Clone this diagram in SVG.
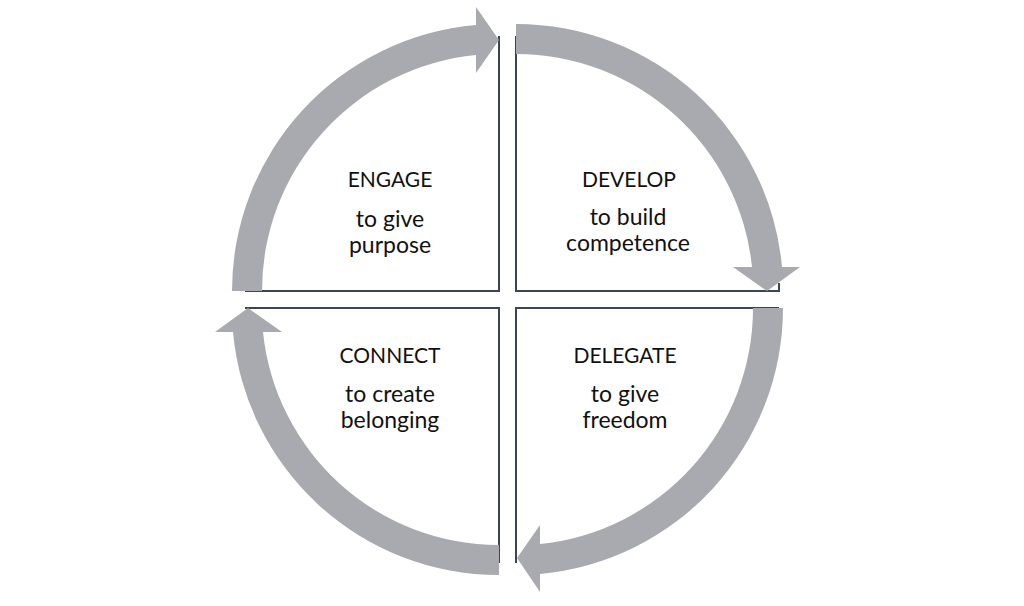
<svg xmlns="http://www.w3.org/2000/svg" width="1024" height="606" viewBox="0 0 1024 606">
<style>
.q{fill:none;stroke:#3d4451;stroke-width:2}
.a{fill:#a8aab0}
.t{font-family:Lato,"Open Sans",sans-serif;font-size:23px;fill:#111;text-anchor:middle}
.h{font-size:21px}
</style>
<rect width="1024" height="606" fill="#fff"/>
<g id="engage">
<path class="q" d="M245 291 L499 291 L499 36"/>
<text class="t h" x="390" y="187">ENGAGE</text>
<text class="t" x="390" y="227">to give</text>
<text class="t" x="390" y="253">purpose</text>
</g>
<g id="develop">
<path class="q" d="M516 36 L516 291 L779 291 L779 283"/>
<text class="t h" x="629" y="187">DEVELOP</text>
<text class="t" x="628" y="225">to build</text>
<text class="t" x="628" y="251">competence</text>
</g>
<g id="connect">
<path class="q" d="M245 308 L499 308 L499 563"/>
<text class="t h" x="390" y="363">CONNECT</text>
<text class="t" x="390" y="402">to create</text>
<text class="t" x="390" y="428">belonging</text>
</g>
<g id="delegate">
<path class="q" d="M779 308 L516 308 L516 563"/>
<text class="t h" x="625" y="363">DELEGATE</text>
<text class="t" x="625" y="402">to give</text>
<text class="t" x="625" y="428">freedom</text>
</g>
<g id="connectors">
<path class="a" d="M232 291 A267 267 0 0 1 476 25 L476 7 L499 40 L476 73 L476 55 A237 237 0 0 0 262 291 Z"/>
<path class="a" d="M516 24 A267 267 0 0 1 782 267 L800 267 L767 291 L733 267 L752 267 A237 237 0 0 0 516 54 Z"/>
<path class="a" d="M783 308 A267 267 0 0 1 540 574 L540 592 L517 558 L540 525 L540 544 A237 237 0 0 0 753 308 Z"/>
<path class="a" d="M499 575 A267 267 0 0 1 233 332 L215 332 L248 308 L282 332 L263 332 A237 237 0 0 0 499 545 Z"/>
</g>
</svg>
